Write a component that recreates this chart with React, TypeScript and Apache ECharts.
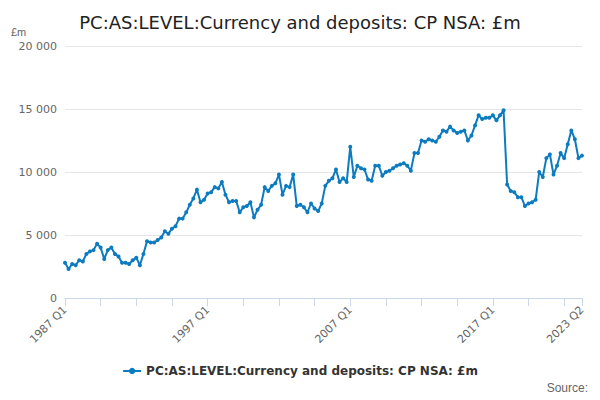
import React, { useEffect, useRef } from 'react'
import * as echarts from 'echarts'

const years = Array.from({ length: 37 }, (_, i) => 1987 + i)
const categories: string[] = []
years.forEach(y => [1, 2, 3, 4].forEach(q => { if (y < 2023 || q <= 2) categories.push(`${y} Q${q}`) }))

const values = [
  2800, 2300, 2700, 2600, 3000, 2900, 3500, 3700, 3800, 4300, 4000, 3100,
  3800, 4000, 3500, 3300, 2800, 2800, 2700, 3000, 3200, 2600, 3500, 4500,
  4400, 4400, 4600, 4800, 5300, 5100, 5500, 5700, 6300, 6300, 6800, 7400,
  7900, 8600, 7600, 7800, 8300, 8400, 8800, 8700, 9200, 8200, 7600, 7700,
  7700, 6800, 7200, 7300, 7600, 6400, 7000, 7400, 8800, 8500, 8900, 9100,
  9800, 8200, 8900, 8800, 9800, 7300, 7400, 7200, 6800, 7500, 7100, 6900,
  7500, 8900, 9300, 9500, 10200, 9200, 9500, 9200, 12000, 9600, 10500, 10300,
  10200, 9400, 9300, 10500, 10500, 9700, 10000, 10100, 10300, 10500, 10600, 10700,
  10500, 10100, 11500, 11500, 12500, 12400, 12600, 12500, 12400, 12800, 13300, 13200,
  13600, 13300, 13100, 13200, 13300, 12500, 12900, 13700, 14500, 14200, 14300, 14300,
  14500, 14100, 14500, 14900, 9000, 8500, 8400, 8000, 8000, 7300, 7500, 7600,
  7800, 10000, 9600, 11100, 11400, 9800, 10500, 11500, 11100, 12200, 13300,
  12600, 11100, 11300,
]

const yTicks = [0, 5000, 10000, 15000, 20000]
const seriesName = 'PC:AS:LEVEL:Currency and deposits: CP NSA: £m'

export default function App() {
  const ref = useRef<HTMLDivElement>(null)

  useEffect(() => {
    if (!ref.current) return
    const chart = echarts.init(ref.current, null, { renderer: 'svg' })
    const last = categories.length - 1
    chart.setOption({
      animation: false,
      textStyle: { fontFamily: 'DejaVu Sans' },
      title: {
        text: seriesName,
        left: 'center',
        top: 8,
        textStyle: { fontSize: 18, fontWeight: 'normal', color: '#222' },
      },
      graphic: [
        { type: 'text', left: 11, top: 26, style: { text: '£m', fontSize: 11, fill: '#666' } },
        { type: 'text', right: 12, bottom: 6, style: { text: 'Source:', fontSize: 12, fill: '#666' } },
      ],
      legend: {
        bottom: 18,
        left: 'center',
        itemWidth: 18,
        itemHeight: 8,
        textStyle: { fontSize: 12, fontWeight: 'bold', color: '#333' },
      },
      grid: { left: 65, right: 18, top: 46, bottom: 102 },
      xAxis: {
        type: 'category',
        data: categories,
        boundaryGap: false,
        axisLine: { lineStyle: { color: '#ccd6eb' } },
        axisTick: { interval: (i: number) => i % 10 === 0 || i === last, lineStyle: { color: '#ccd6eb' }, length: 8 },
        axisLabel: {
          interval: (i: number) => i % 40 === 0 || i === last,
          rotate: 45,
          color: '#666',
          fontSize: 11,
          margin: 10,
        },
      },
      yAxis: {
        type: 'value',
        min: yTicks[0],
        max: yTicks[yTicks.length - 1],
        interval: 5000,
        axisLabel: {
          color: '#666',
          fontSize: 11,
          formatter: (v: number) => (v >= 1000 ? `${Math.floor(v / 1000)} ${String(v % 1000).padStart(3, '0')}` : `${v}`),
        },
        splitLine: { lineStyle: { color: '#e6e6e6' } },
      },
      series: [{
        name: seriesName,
        type: 'line',
        data: values,
        color: '#0c7bc0',
        symbol: 'circle',
        symbolSize: 4,
        showAllSymbol: true,
        lineStyle: { width: 2 },
      }],
    })
    return () => chart.dispose()
  }, [])

  return <div ref={ref} style={{ width: 600, height: 400, margin: -8 }} />
}
